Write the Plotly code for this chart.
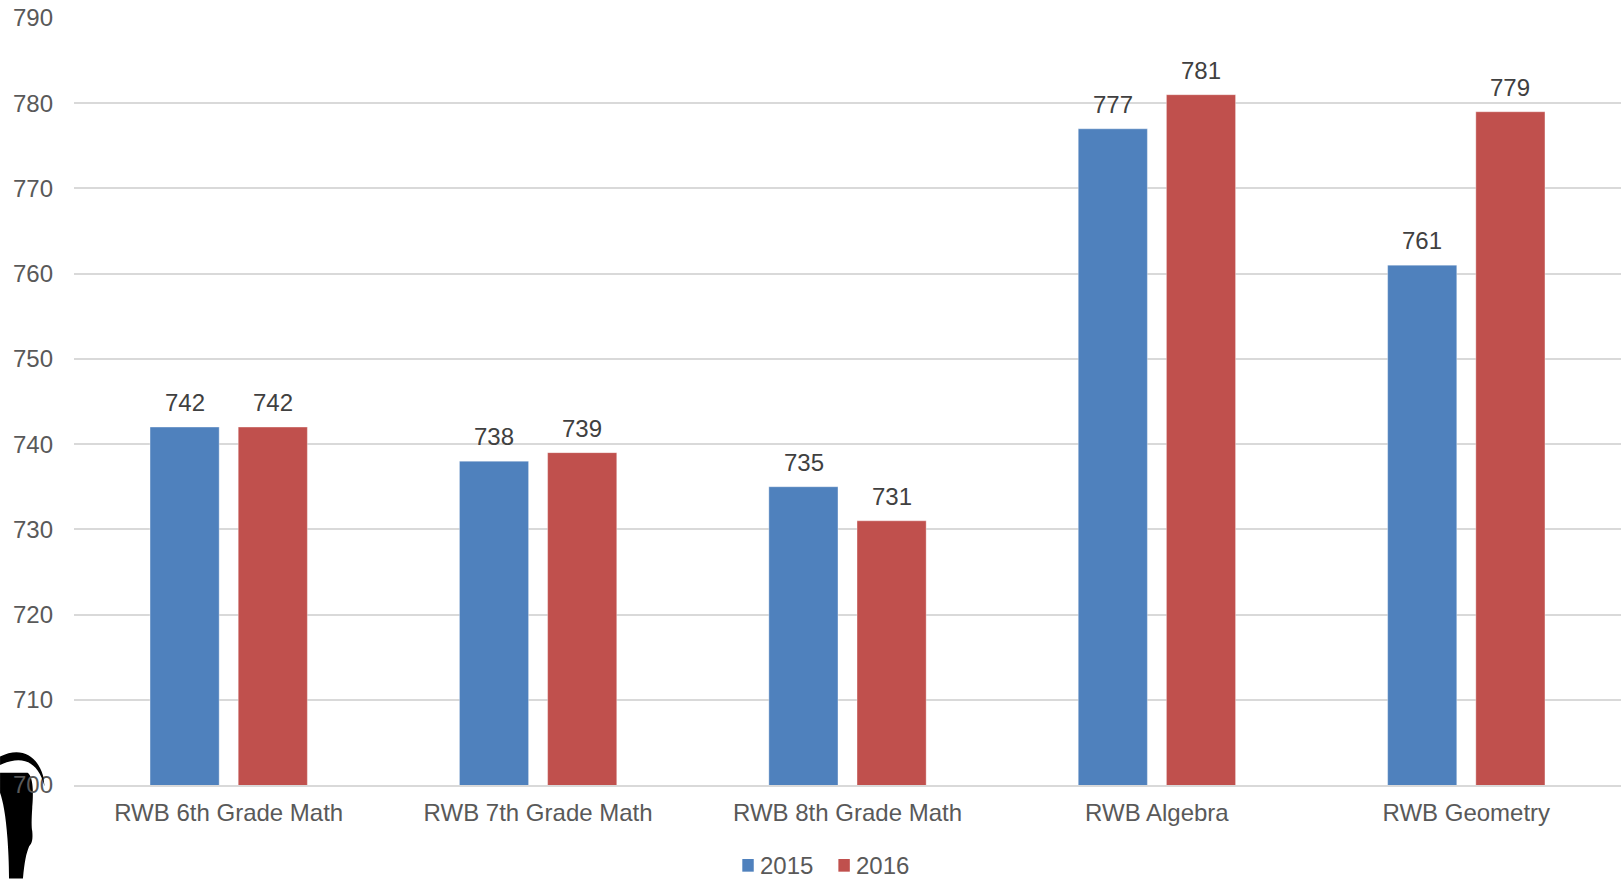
import plotly.graph_objects as go

# Mean scale scores by course, two school years
categories = ["RWB 6th Grade Math", "RWB 7th Grade Math", "RWB 8th Grade Math",
              "RWB Algebra", "RWB Geometry"]
scores_2015 = [742, 738, 735, 777, 761]
scores_2016 = [742, 739, 731, 781, 779]
series_names = ["2015", "2016"]
y_ticks = [700, 710, 720, 730, 740, 750, 760, 770, 780, 790]

BLUE = "#4f81bd"
RED = "#c0504d"
FONT = "Liberation Sans, Arial, sans-serif"
series_colors = [BLUE, RED]

fig = go.Figure()
for name, vals, col in zip(series_names, [scores_2015, scores_2016], series_colors):
    fig.add_trace(go.Bar(
        x=categories, y=vals, name=name,
        marker=dict(color=col, line=dict(color="rgba(255,255,255,0.35)", width=1)),
        base=0, showlegend=False,
    ))

# value labels above each bar
annotations = []
for shift, vals in [(-44, scores_2015), (44, scores_2016)]:
    for c, v in zip(categories, vals):
        annotations.append(dict(
            x=c, y=v, xref="x", yref="y", text=str(v), showarrow=False,
            xshift=shift, yshift=9, yanchor="bottom",
            font=dict(family=FONT, size=24, color="#404040"),
        ))

# compact legend: square swatch followed directly by the series name
shapes = []
legend_x = [0.4320, 0.4941]
for lx, name, col in zip(legend_x, series_names, series_colors):
    shapes.append(dict(type="rect", xref="paper", yref="paper",
                       x0=lx, x1=lx + 0.0074, y0=-0.1130, y1=-0.0965,
                       fillcolor=col, line=dict(width=0)))
    annotations.append(dict(x=lx + 0.0101, y=-0.1050, xref="paper", yref="paper",
                            xanchor="left", yanchor="middle", showarrow=False,
                            text=name, font=dict(family=FONT, size=24, color="#595959")))

# partial emblem in the lower-left corner
shapes += [
    dict(type="path", xref="paper", yref="paper", layer="above",
         path="M -0.0478,0.037 C -0.035,0.050 -0.024,0.040 -0.020,0.012 "
              "L -0.019,-0.002 C -0.023,0.030 -0.033,0.040 -0.0478,0.026 Z",
         fillcolor="black", line=dict(width=0)),
    dict(type="path", xref="paper", yref="paper", layer="below",
         path="M -0.0478,0.016 L -0.0300,0.016 C -0.0255,0.010 -0.0265,-0.020 -0.0270,-0.030 "
              "C -0.0275,-0.045 -0.0275,-0.055 -0.0270,-0.060 "
              "C -0.0265,-0.070 -0.0270,-0.076 -0.0290,-0.080 "
              "C -0.0310,-0.090 -0.0320,-0.100 -0.0330,-0.122 "
              "L -0.0420,-0.122 C -0.0420,-0.100 -0.0425,-0.085 -0.0430,-0.070 "
              "C -0.0440,-0.040 -0.0460,-0.020 -0.0478,-0.010 Z",
         fillcolor="black", line=dict(width=0)),
]

fig.update_layout(
    width=1621, height=879,
    margin=dict(l=74, r=0, t=18, b=94, autoexpand=False),
    paper_bgcolor="white", plot_bgcolor="white",
    barmode="group", bargap=0.43, bargroupgap=0.216,
    font=dict(family=FONT, size=24, color="#595959"),
    showlegend=False,
    annotations=annotations,
    shapes=shapes,
)
fig.update_yaxes(
    range=[700, 790], tickvals=y_ticks, showgrid=True, gridcolor="#d9d9d9", gridwidth=1.5,
    zeroline=False, showline=False, ticks="", ticklabelstandoff=20, automargin=False,
    tickfont=dict(family=FONT, size=24, color="#595959"),
)
fig.update_xaxes(
    showline=True, linecolor="#d9d9d9", linewidth=2, ticks="", ticklabelstandoff=5,
    automargin=False,
    tickfont=dict(family=FONT, size=24, color="#595959"),
)

fig.write_html("out.html")
